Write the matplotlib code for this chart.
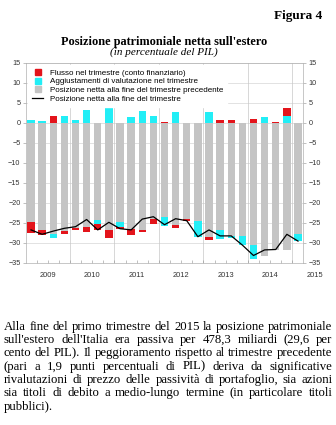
import matplotlib
matplotlib.use('Agg')
import matplotlib.pyplot as plt
import numpy as np
from matplotlib.lines import Line2D
from matplotlib.transforms import blended_transform_factory

# data (% of GDP), 2009Q1 .. 2015Q1
year_labels = ['2009', '2010', '2011', '2012', '2013', '2014', '2015']
pos_prev = [-24.8, -26.8, -27.9, -27.1, -26.4, -26.0, -24.2, -26.8, -24.9, -26.5,
            -26.8, -24.1, -23.5, -25.5, -24.0, -24.5, -28.5, -26.8, -28.3, -28.3,
            -30.6, -33.2, -31.8, -31.7, -27.9]
flow = [-2.7, -1.2, 1.75, -0.8, -0.4, -1.4, -1.6, -2.1, -0.6, -1.6,
        -0.4, -1.1, 0.2, -0.7, -0.5, 0.0, -0.9, 0.7, 0.6, 0.0,
        0.9, 0.0, 0.25, 2.0, 0.0]
valuation = [0.75, 0.3, -0.85, 1.7, 0.75, 3.2, -1.0, 3.9, -1.1, 1.3,
             3.0, 1.7, -2.2, 2.75, 0.0, -4.0, 2.6, -2.2, -0.6, -2.3,
             -3.5, 1.3, 0.0, 1.75, -1.6]
pos_end = [-26.8, -27.9, -27.1, -26.4, -26.0, -24.2, -26.8, -24.9, -26.5, -26.8,
           -24.1, -23.5, -25.5, -24.0, -24.5, -28.5, -26.8, -28.3, -28.3, -30.6,
           -33.2, -31.8, -31.7, -27.9, -29.6]

body_lines = [
    "Alla fine del primo trimestre del 2015 la posizione patrimoniale",
    "sull'estero dell'Italia era passiva per 478,3 miliardi (29,6 per",
    "cento del PIL). Il peggioramento rispetto al trimestre precedente",
    "(pari a 1,9 punti percentuali di PIL) deriva da significative",
    "rivalutazioni di prezzo delle passività di portafoglio, sia azioni",
    "sia titoli di debito a medio-lungo termine (in particolare titoli",
    "pubblici).",
]

RED = '#e3141b'
CYAN = '#22eef6'
GREY = '#c4c4c4'
SANS = 'Liberation Sans'
SERIF = 'Liberation Serif'

W, H = 336, 425
fig = plt.figure(figsize=(W / 100, H / 100), dpi=100)
ax = fig.add_axes([26 / W, 1 - 262.7 / H, (303 - 26) / W, 200 / H])

prev = np.array(pos_prev)
fl = np.array(flow)
val = np.array(valuation)
x = np.arange(len(prev))
bw = 0.66

# stacked: positive pieces from zero upward, negative ones below the grey bar
val_bottom = np.where(val >= 0, 0, prev)
top_after_val = np.where(val >= 0, val, 0)
bot_after_val = np.where(val < 0, prev + val, prev)
flow_bottom = np.where(fl >= 0, top_after_val, bot_after_val)

ax.bar(x, prev, bw, color=GREY, zorder=2)
ax.bar(x, val, bw, bottom=val_bottom, color=CYAN, zorder=3)
ax.bar(x, fl, bw, bottom=flow_bottom, color=RED, zorder=3)
ax.plot(x, pos_end, color='black', lw=0.9, zorder=4)

ax.set_xlim(-0.45, 24.45)
ax.set_ylim(-35, 15)
ax.set_yticks(np.arange(-35, 16, 5))
ax.set_xticks([])
ax.set_xticks(np.arange(0.5, 24.5, 1), minor=True)
ax.tick_params(axis='x', which='minor', direction='in', length=2.5, width=0.4,
               color='#909090', bottom=True)
ax.tick_params(axis='y', labelsize=5.2, labelcolor='#333333', length=2, width=0.4,
               color='#909090', left=True, right=True, labelleft=True,
               labelright=True, pad=2)
for lab in ax.get_yticklabels():
    lab.set_family(SANS)

for yv in np.arange(-35, 16, 5):
    ax.axhline(yv, color='#d6d6d6', lw=0.5, zorder=1)
for xv in np.arange(3.5, 24, 4):
    ax.axvline(xv, color='#c8c8c8', lw=0.5, zorder=1)
for sp in ax.spines.values():
    sp.set_color('#b0b0b0')
    sp.set_linewidth(0.5)

trans = blended_transform_factory(ax.transData, ax.transAxes)
for i, yl in enumerate(year_labels):
    ax.text(1.5 + 4 * i, -0.065, yl, transform=trans, ha='center', va='center',
            fontsize=5.4, family=SANS, color='#333333', clip_on=False)

handles = [
    Line2D([], [], marker='s', ls='none', color=RED, markersize=4),
    Line2D([], [], marker='s', ls='none', color=CYAN, markersize=4),
    Line2D([], [], marker='s', ls='none', color=GREY, markersize=4),
    Line2D([], [], color='black', lw=0.9),
]
labels = ["Flusso nel trimestre (conto finanziario)",
          "Aggiustamenti di valutazione nel trimestre",
          "Posizione netta alla fine del trimestre precedente",
          "Posizione netta alla fine del trimestre"]
leg = ax.legend(handles, labels, loc='upper left', bbox_to_anchor=(0.0, 1.0),
                prop={'family': SANS, 'size': 5.8}, frameon=True,
                facecolor='white', edgecolor='white', framealpha=1,
                handlelength=1.35, handletextpad=0.8, labelspacing=0.12,
                borderpad=0.5, borderaxespad=0.3, fancybox=False)
leg.set_zorder(6)

fig.text(322 / W, 1 - 16 / H, "Figura 4", ha='right', va='center',
         family=SERIF, weight='bold', fontsize=9.5)
fig.text(164 / W, 1 - 42.5 / H, "Posizione patrimoniale netta sull'estero",
         ha='center', va='center', family=SERIF, weight='bold', fontsize=8.8)
fig.text(164 / W, 1 - 52 / H, "(in percentuale del PIL)", ha='center',
         va='center', family=SERIF, style='italic', fontsize=8.0)

# justified paragraph: size the font so the fullest line fits, then spread words
fig.canvas.draw()
r = fig.canvas.get_renderer()
left_px, right_px = 4.0, 332.5

def width_px(s, size):
    t = fig.text(0, 0, s, family=SERIF, fontsize=size)
    w = t.get_window_extent(renderer=r).width
    t.remove()
    return w

natural = max(width_px(l, 10) for l in body_lines[:-1])
fs = 10 * (right_px - left_px - 1) / natural
space_w = width_px("a a", fs) - width_px("aa", fs)
y0 = 326.7
for k, line in enumerate(body_lines):
    words = line.split(' ')
    ws = [width_px(w, fs) for w in words]
    yy = 1 - (y0 + 13.35 * k) / H
    if k < len(body_lines) - 1 and len(words) > 1:
        gap = (right_px - left_px - sum(ws)) / (len(words) - 1)
    else:
        gap = space_w
    xx = left_px
    for w, wd in zip(words, ws):
        fig.text(xx / W, yy, w, family=SERIF, fontsize=fs, va='center', ha='left')
        xx += wd + gap

fig.savefig('out.png', dpi=100)
